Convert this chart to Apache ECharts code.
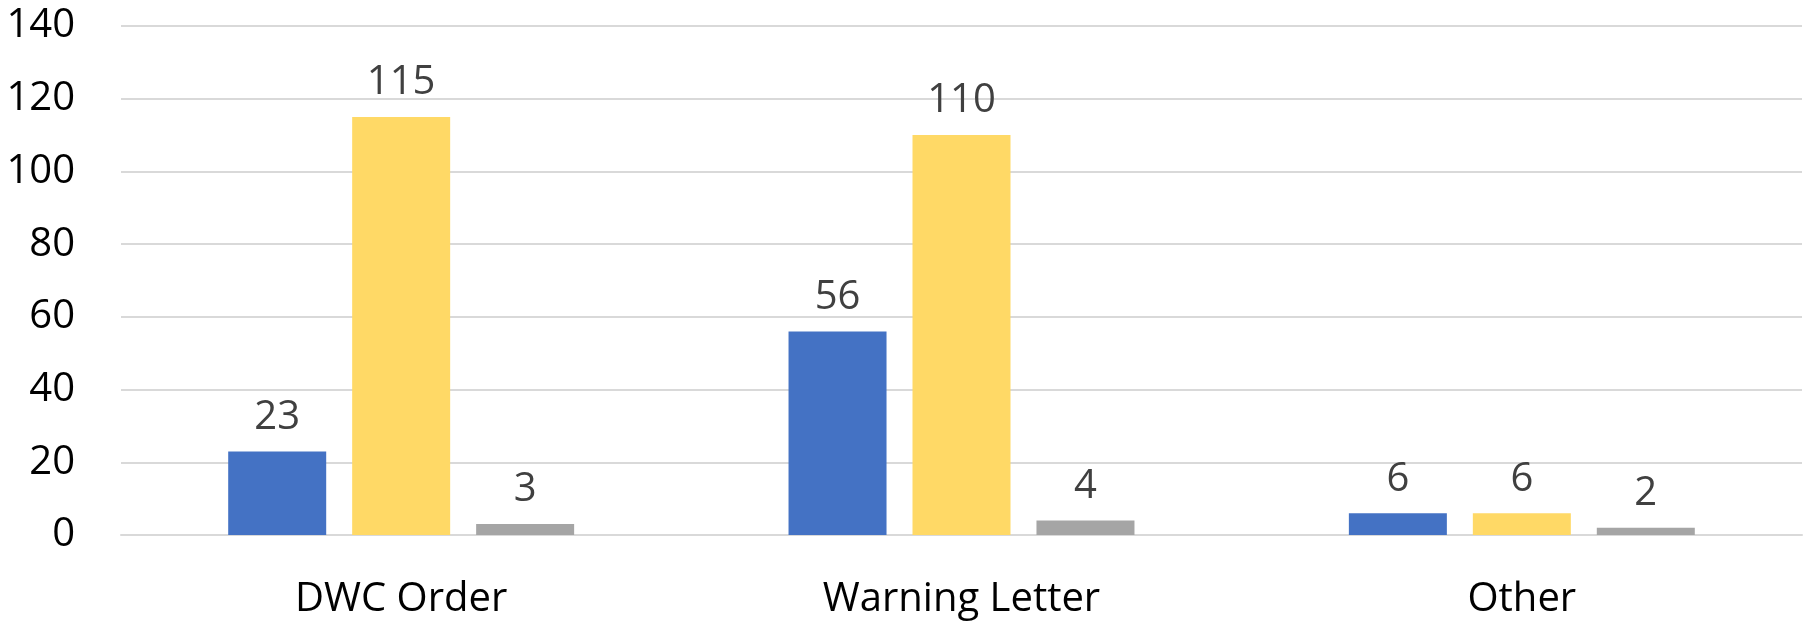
<!DOCTYPE html>
<html>
<head>
<meta charset="utf-8">
<script src="https://cdn.jsdelivr.net/npm/echarts@6/dist/echarts.min.js"></script>
<style>
html,body{margin:0;padding:0;background:#fff;}
#chart{width:1810px;height:621px;}
</style>
</head>
<body>
<div id="chart"></div>
<script>
const categories = ['DWC Order', 'Warning Letter', 'Other'];
const series1 = [23, 56, 6];
const series2 = [115, 110, 6];
const series3 = [3, 4, 2];
const yTicks = [0, 20, 40, 60, 80, 100, 120, 140];

const FONT = 'Open Sans';
const chart = echarts.init(document.getElementById('chart'), null, {renderer: 'canvas'});
const labelStyle = {
  show: true, position: 'top', distance: 14,
  color: '#404040', fontFamily: FONT, fontSize: 40
};
function mk(name, data, color) {
  return {
    name, type: 'bar', data, barWidth: 98, barGap: '26.5%',
    itemStyle: {color}, label: labelStyle, animation: false
  };
}
chart.setOption({
  animation: false,
  grid: {left: 121, right: 8, top: 26, bottom: 86, containLabel: false},
  xAxis: {
    type: 'category', data: categories,
    axisLine: {show: true, lineStyle: {color: '#d9d9d9', width: 2}},
    axisTick: {show: false},
    axisLabel: {color: '#000', fontFamily: FONT, fontSize: 40, margin: 45}
  },
  yAxis: {
    type: 'value', min: yTicks[0], max: yTicks[yTicks.length - 1], interval: 20,
    axisLine: {show: false}, axisTick: {show: false},
    splitLine: {lineStyle: {color: '#d9d9d9', width: 2}},
    axisLabel: {color: '#000', fontFamily: FONT, fontSize: 40, margin: 46}
  },
  series: [
    mk('Series 1', series1, '#4472C4'),
    mk('Series 2', series2, '#FFD966'),
    mk('Series 3', series3, '#A5A5A5')
  ]
});
</script>
</body>
</html>
